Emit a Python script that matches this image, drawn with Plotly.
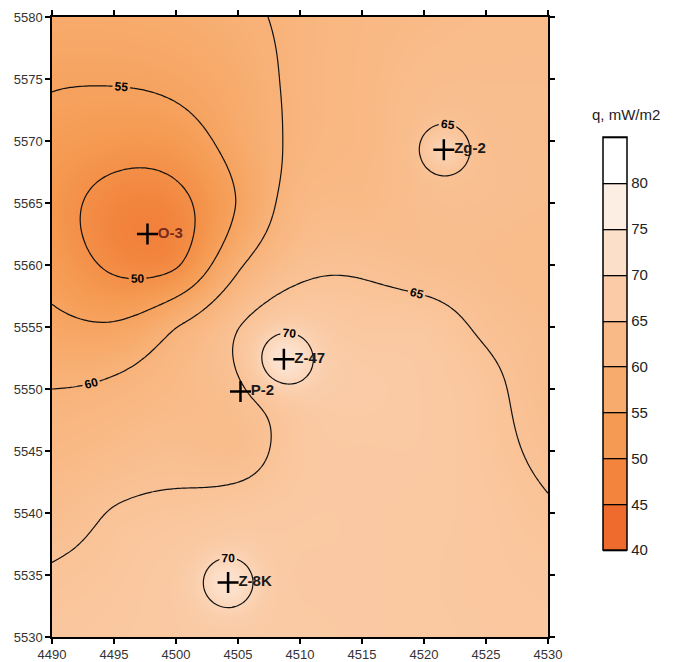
import numpy as np
import plotly.graph_objects as go

# Regional heat-flow estimates (mW/m2) on a 5 km grid; rows run north -> south
grid_x = [4490, 4495, 4500, 4505, 4510, 4515, 4520, 4525, 4530]
grid_y = [5580, 5575, 5570, 5565, 5560, 5555, 5550, 5545, 5540, 5535, 5530]
grid_q = [
    [57.5, 57.5, 58.0, 59.2, 60.8, 61.8, 62.5, 63.0, 63.0],  # 5580
    [55.4, 55.3, 56.0, 58.0, 60.8, 62.0, 63.3, 63.5, 63.5],  # 5575
    [53.5, 52.3, 52.8, 57.0, 60.8, 62.0, 63.8, 63.8, 63.5],  # 5570
    [52.0, 48.3, 48.8, 55.3, 62.0, 62.5, 63.7, 63.8, 63.5],  # 5565
    [53.3, 49.3, 49.7, 59.3, 64.0, 64.5, 63.8, 63.5, 63.0],  # 5560
    [56.3, 55.6, 59.9, 64.7, 67.0, 66.5, 66.4, 64.5, 63.5],  # 5555
    [60.0, 60.8, 62.5, 63.8, 67.0, 67.5, 67.0, 65.8, 63.5],  # 5550
    [62.0, 63.0, 63.8, 63.5, 66.5, 67.0, 67.0, 66.0, 64.3],  # 5545
    [63.5, 65.2, 65.8, 66.5, 67.0, 67.0, 66.8, 66.3, 65.3],  # 5540
    [65.3, 66.0, 67.0, 67.3, 67.0, 67.0, 66.7, 66.3, 66.0],  # 5535
    [66.0, 66.5, 67.0, 67.3, 67.2, 67.0, 66.8, 66.5, 66.3],  # 5530
]

# Boreholes: measured heat flow and the half-width (km) of their local anomaly
well_names = ["O-3", "Zg-2", "Z-47", "P-2", "Z-8K"]
well_x = [4497.7, 4521.6, 4508.7, 4505.2, 4504.2]
well_y = [5562.5, 5569.3, 5552.4, 5549.8, 5534.4]
well_q = [46.8, 69.5, 74.0, 64.3, 73.5]
well_sigma = [3.0, 1.16, 1.65, 1.5, 1.57]
well_text_color = ["#7a2a1c", "#1a1a1a", "#1a1a1a", "#1a1a1a", "#1a1a1a"]

# Colour classes, 40-45 ... 80-85 mW/m2
levels = [40, 45, 50, 55, 60, 65, 70, 75, 80, 85]
class_colors = ["#EE6B2D", "#F2843D", "#F59A52", "#F7AB6C", "#F9BA87",
                "#FACBA6", "#FCDFC9", "#FDEEE4", "#FFFFFF"]


def tps_kernel(r):
    with np.errstate(divide="ignore", invalid="ignore"):
        k = r ** 2 * np.log(r)
    return np.nan_to_num(k)


# --- regional surface: thin-plate spline through the grid estimates ----
gx, gy = np.meshgrid(grid_x, grid_y)
px, py = gx.ravel().astype(float), gy.ravel().astype(float)
pq = np.asarray(grid_q, dtype=float).ravel()
n = len(px)
A = np.zeros((n + 3, n + 3))
A[:n, :n] = tps_kernel(np.hypot(px[:, None] - px, py[:, None] - py))
P = np.column_stack([np.ones(n), px, py])
A[:n, n:] = P
A[n:, :n] = P.T
coef = np.linalg.solve(A, np.concatenate([pq, np.zeros(3)]))
w, a = coef[:n], coef[n:]


def regional(x, y):
    x = np.asarray(x, float)
    y = np.asarray(y, float)
    d = np.hypot(x[..., None] - px, y[..., None] - py)
    return tps_kernel(d) @ w + a[0] + a[1] * x + a[2] * y


xs = np.linspace(4490, 4530, 161)
ys = np.linspace(5530, 5580, 201)
XX, YY = np.meshgrid(xs, ys)
Z = regional(XX, YY)

# --- local borehole anomalies on top of the regional field -------------
resid = np.asarray(well_q) - regional(well_x, well_y)
for wx, wy, r, s in zip(well_x, well_y, resid, well_sigma):
    Z = Z + r * np.exp(-((XX - wx) ** 2 + (YY - wy) ** 2) / (2 * s * s))

# stepwise scale for the class legend, smooth scale for the shaded map
nb = len(class_colors)
step_scale = []
for i, c in enumerate(class_colors):
    step_scale.append([i / nb, c])
    step_scale.append([(i + 1) / nb, c])
zlo, zhi = levels[0], levels[-1]
smooth_scale = [[0.0, class_colors[0]]]
for i, c in enumerate(class_colors):
    mid = (levels[i] + levels[i + 1]) / 2
    smooth_scale.append([(mid - zlo) / (zhi - zlo), c])
smooth_scale.append([1.0, class_colors[-1]])

font_family = "Liberation Sans, Arial"

fig = go.Figure()
# class fill (provides the class legend), hidden beneath the shaded map
fig.add_trace(go.Contour(
    x=xs, y=ys, z=Z, zmin=zlo, zmax=zhi, zauto=False, autocontour=False,
    contours=dict(start=zlo, end=zhi, size=5, coloring="fill", showlines=True),
    colorscale=step_scale,
    line=dict(color="black", width=1.3),
    colorbar=dict(
        x=1.111, xanchor="left", xpad=0, y=0.473, yanchor="middle", ypad=0,
        len=413, lenmode="pixels", thickness=24, thicknessmode="pixels",
        outlinecolor="black", outlinewidth=1.5,
        tickvals=levels[:-1], ticks="",
        tickfont=dict(family=font_family, size=15, color="#222"),
    ),
    hoverinfo="skip",
))
# shaded map with isolines
fig.add_trace(go.Contour(
    x=xs, y=ys, z=Z, zmin=zlo, zmax=zhi, zauto=False, autocontour=False,
    contours=dict(start=zlo, end=zhi, size=5, coloring="heatmap",
                  showlabels=True,
                  labelfont=dict(family=font_family, size=12,
                                 color="black", weight="bold")),
    colorscale=smooth_scale, showscale=False,
    line=dict(color="#111", width=1.2, smoothing=1),
    hoverinfo="skip",
))

fig.add_trace(go.Scatter(
    x=well_x, y=well_y, text=well_names,
    mode="markers+text", textposition="middle right",
    marker=dict(symbol="cross-thin", size=15, color="black",
                line=dict(color="black", width=2.5)),
    textfont=dict(family=font_family, size=15,
                  color=well_text_color, weight="bold"),
    showlegend=False, cliponaxis=False,
))

fig.add_annotation(
    text="q, mW/m2", xref="paper", yref="paper", x=1.157, y=0.842,
    xanchor="center", yanchor="middle", showarrow=False,
    font=dict(family=font_family, size=15, color="#222"),
)

axis_common = dict(
    showgrid=False, zeroline=False, showline=True, linecolor="black",
    linewidth=1.5, mirror="ticks", ticks="outside", ticklen=5,
    tickcolor="black", tickwidth=1.5,
    tickfont=dict(family=font_family, size=13, color="#333"),
)
fig.update_layout(
    width=675, height=662,
    margin=dict(l=52, r=127, t=17, b=25, autoexpand=False),
    paper_bgcolor="white", plot_bgcolor="white",
    xaxis=dict(range=[4490, 4530], dtick=5, tick0=4490, **axis_common),
    yaxis=dict(range=[5530, 5580], dtick=5, tick0=5530, **axis_common),
    showlegend=False,
)

fig.write_html("out.html")
